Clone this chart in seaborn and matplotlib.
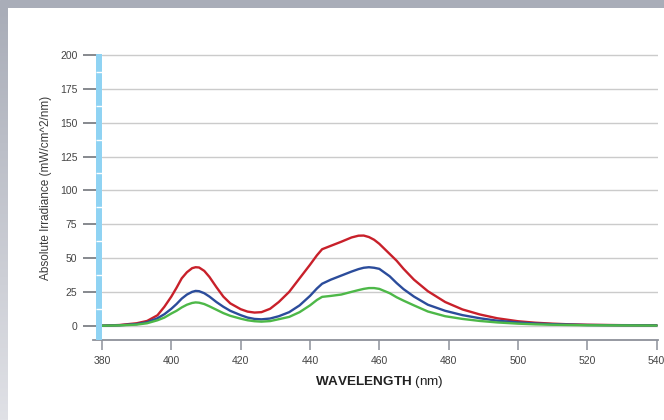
import numpy as np
import pandas as pd
import matplotlib
matplotlib.use("Agg")
import matplotlib.pyplot as plt
from matplotlib.ticker import FixedLocator
from matplotlib.colors import LinearSegmentedColormap
import seaborn as sns

# ---- data ----
wavelength = [380, 385, 390, 393, 396, 398, 400, 401.5, 403, 404.5, 406, 407, 408, 409.5, 411,
              413, 415, 417, 420, 422, 424, 426, 428.5, 431, 434, 437, 440, 442, 443.5, 446,
              449, 452, 454, 455.5, 457, 458.5, 460, 463, 465, 467, 470, 474, 479, 484, 489,
              494, 500, 505, 510, 515, 520, 530, 540]
red = [0, 0.5, 1.8, 3.5, 7.7, 14, 21.5, 28, 35, 39.5,
       42.5, 43.2, 43, 40.5, 36, 28.5, 21.5, 16.5, 12.2, 10.4,
       9.7, 10, 12.5, 17.5, 25, 35, 45, 52, 56.5, 59,
       62, 65.2, 66.5, 66.6, 65.5, 63.5, 60.5, 53, 48, 42,
       34, 25.5, 17.5, 12, 8.3, 5.5, 3.3, 2.2, 1.5, 1.0,
       0.7, 0.4, 0.3]
blue = [0, 0.3, 1.2, 2.5, 5.5, 8.5, 12.5, 16, 20, 23,
        25, 25.7, 25.5, 24, 21.5, 17.5, 14, 11, 7.8, 6,
        5, 4.7, 5.3, 7, 10, 15, 22, 27.5, 31, 34,
        37, 40, 41.8, 42.8, 43.2, 42.8, 42, 36.5, 31.5, 27,
        21.5, 15.5, 11, 7.8, 5.5, 3.7, 2.4, 1.6, 1.1, 0.8,
        0.5, 0.3, 0.2]
green = [0, 0.2, 0.8, 1.8, 4, 6, 9, 11, 13.5, 15.5,
         16.8, 17.2, 17, 16, 14.3, 11.8, 9.3, 7.3, 5.2, 4,
         3.3, 3, 3.4, 4.8, 6.5, 10, 15, 19, 21.3, 22,
         23, 25, 26.3, 27.2, 27.8, 27.8, 27.2, 24, 21, 18.5,
         15, 10.5, 7, 5, 3.5, 2.4, 1.5, 1, 0.7, 0.5,
         0.3, 0.2, 0.1]
series_names = ["Red", "Blue", "Green"]
series_colors = ["#c8202a", "#2b4c9b", "#4db848"]
x_ticks = [380, 400, 420, 440, 460, 480, 500, 520, 540]
y_ticks = [0, 25, 50, 75, 100, 125, 150, 175, 200]
x_label_bold = "WAVELENGTH"
x_label_rest = " (nm)"
y_label = "Absolute Irradiance (mW/cm^2/nm)"

df = pd.DataFrame({
    "wavelength": wavelength * 3,
    "irradiance": red + blue + green,
    "series": [series_names[0]] * len(red) + [series_names[1]] * len(blue) + [series_names[2]] * len(green),
})

sns.set_theme(style="white")
plt.rcParams['font.family'] = ['Liberation Sans', 'DejaVu Sans']
plt.rcParams['mathtext.fontset'] = 'custom'
plt.rcParams['mathtext.bf'] = 'Liberation Sans:bold'
plt.rcParams['mathtext.rm'] = 'Liberation Sans'

W, H = 664, 420
fig = plt.figure(figsize=(W / 100, H / 100), dpi=100)
fig.patch.set_facecolor("white")

# frame strips (top band and left gradient band)
top_ax = fig.add_axes([0, 1 - 8 / H, 1, 8 / H])
top_ax.add_patch(plt.Rectangle((0, 0), 1, 1, transform=top_ax.transAxes, color="#a9adb8"))
top_ax.set_axis_off()
left_ax = fig.add_axes([0, 0, 8 / W, 1 - 8 / H])
grad = np.linspace(0, 1, 256).reshape(-1, 1)
cmap = LinearSegmentedColormap.from_list("strip", ["#a9adb8", "#e0e1e6"])
left_ax.imshow(grad, aspect="auto", cmap=cmap, extent=[0, 1, 1, 0])
left_ax.set_axis_off()

ax_bottom_px, ax_top_px = 340, 54.46
ax_h = ax_bottom_px - ax_top_px
rect = [102 / W, (H - ax_bottom_px) / H, 556 / W, ax_h / H]
ax = fig.add_axes(rect)
ax.set_facecolor("none")

pal = dict(zip(series_names, series_colors))
sns.lineplot(data=df, x="wavelength", y="irradiance", hue="series", palette=pal,
             linewidth=1.7, legend=False, sort=False, ax=ax, zorder=3)

ax.set_xlim(380, 540.4)
ax.set_ylim(-10.57, 200.4)

ax.set_xticks(x_ticks)
ax.set_yticks(y_ticks)
ax.yaxis.grid(True, which="major", color="#cbcbcb", linewidth=1.0)
ax.xaxis.grid(False)
ax.set_axisbelow(False)

for s in ["top", "right"]:
    ax.spines[s].set_visible(False)
ax.spines["left"].set_position(("outward", 2.2))
ax.spines["left"].set_color("#8fd3f3")
ax.spines["left"].set_linewidth(4.3)
ax.spines["left"].set_capstyle("butt")
ax.spines["left"].set_zorder(2.6)
ax.spines["bottom"].set_color("#8d919a")
ax.spines["bottom"].set_linewidth(1.3)
ax.spines["bottom"].set_bounds(377.4, 540.4)

ax.tick_params(axis="y", which="both", left=True, right=False)
ax.tick_params(axis="x", which="both", bottom=True, top=False)
ax.tick_params(axis="y", which="major", direction="out", length=11.5, width=1.1,
               color="#666a70", labelsize=7.5, labelcolor="#444444", pad=4)
ax.tick_params(axis="x", which="major", direction="out", length=7.2, width=1.1,
               color="#8d919a", labelsize=7.5, labelcolor="#444444", pad=4)

ax.set_ylabel(y_label, fontsize=8.5, color="#3a3a3a")
ax.yaxis.set_label_coords((52 - 102) / 556, (ax_bottom_px - 188.3) / ax_h)
ax.set_xlabel(r"$\bf{" + x_label_bold + "}$" + x_label_rest, fontsize=9.7, color="#222222")
ax.xaxis.label.set_va("center")
ax.xaxis.set_label_coords((379.5 - 102) / 556, (ax_bottom_px - 382.5) / ax_h)

# overlay axes carrying only the white marks inside the blue axis bar
ax2 = fig.add_axes(rect)
ax2.set_ylim(ax.get_ylim())
ax2.set_xlim(ax.get_xlim())
ax2.patch.set_visible(False)
for s in ["top", "right", "bottom"]:
    ax2.spines[s].set_visible(False)
ax2.spines["left"].set_position(("outward", 2.2))
ax2.spines["left"].set_alpha(0)
ax2.set_xticks([])
ax2.set_yticks([])
ax2.yaxis.set_minor_locator(FixedLocator([v + 12.5 for v in y_ticks[:-1]]))
ax2.tick_params(axis="y", which="minor", left=True, direction="inout", length=4.3,
                width=1.0, color="white", labelleft=False)
ax2.grid(False)

fig.savefig("out.png", dpi=100)
